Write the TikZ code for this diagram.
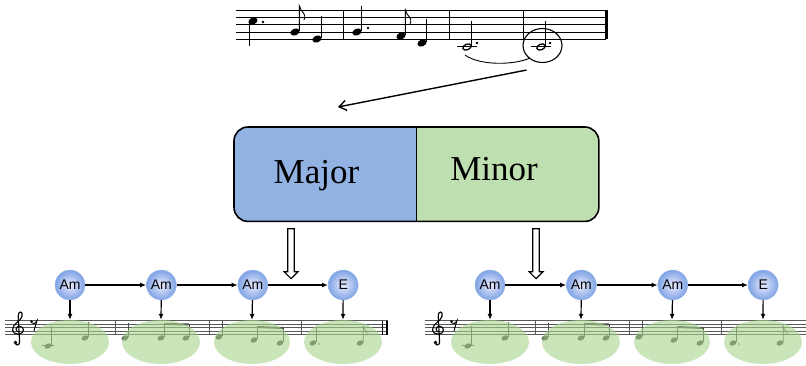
\documentclass[tikz,border=0pt]{standalone}
\usepackage{fontspec}
\setmainfont{Liberation Serif}
\setsansfont{Liberation Sans}
\usetikzlibrary{arrows.meta,positioning,shapes.geometric,shapes.arrows}
\definecolor{majorblue}{RGB}{145,178,226}
\definecolor{minorgreen}{RGB}{190,223,176}
\definecolor{blobgreen}{RGB}{168,212,140}
\definecolor{chordblue}{RGB}{126,163,228}

\begin{document}
\begin{tikzpicture}[x=1pt,y=-1pt,
  stf/.style={line width=0.7pt},
  notes/.style={line width=0.9pt},
  conn/.style={-{Latex[length=6pt,width=5pt]}, line width=1.2pt},
  chord/.style={circle, draw=chordblue!70, inner sep=0pt, minimum size=30pt,
    inner color=blue!8, outer color=chordblue, font=\sffamily\fontsize{14}{14}\selectfont},
  blob/.style={ellipse, fill=blobgreen, fill opacity=0.6, inner sep=0pt,
    minimum width=78pt, minimum height=44pt},
  hollow/.style={single arrow, draw, line width=1.2pt, shape border rotate=270,
    minimum height=50pt, minimum width=14pt, inner sep=2.5pt, single arrow head extend=3.5pt}]
  \useasboundingbox (0,0) rectangle (806,365);

  % melody on top
  \foreach \y in {10,17.3,24.6,31.9,39.2}
    \draw[stf] (236,\y) -- (606,\y);
  \foreach \x in {343,449,523}
    \draw[stf] (\x,10) -- (\x,39.2);
  \draw[line width=3pt] (606,10) -- (606,39.2);
  \foreach \x/\y in {253/21,295/32,317/39,357/32,401/36,422/43}
    \fill[rotate around={22:(\x,\y)}] (\x,\y) ellipse (4.8 and 3.4);
  \foreach \x/\y in {467/47,541/47}{
    \draw[line width=1.3pt, rotate around={22:(\x,\y)}] (\x,\y) ellipse (4.4 and 2.8);
    \draw[stf] (\x-10,46.5) -- (\x+10,46.5);}
  \draw[notes] (249,22) -- (249,46);
  \draw[notes] (299.4,31) -- (299.4,6) .. controls (301,13) and (307,13) .. (304,20);
  \draw[notes] (321.4,38) -- (321.4,16);
  \draw[notes] (361.4,31) -- (361.4,6);
  \draw[notes] (405.4,35) -- (405.4,10) .. controls (407,17) and (413,17) .. (410,24);
  \draw[notes] (426.4,42) -- (426.4,19);
  \draw[notes] (471.4,46) -- (471.4,21);
  \draw[notes] (545.4,46) -- (545.4,21);
  \foreach \x/\y in {263/22,368/28,477/43,550/43}
    \fill (\x,\y) circle (1.3);
  \draw[line width=0.9pt] (465,55) .. controls (480,66) and (515,65) .. (530,58);
  \node[draw, ellipse, line width=1.1pt, minimum width=39pt, minimum height=34pt] (sel) at (542.5,45.5) {};
  \coordinate (tip) at (338,107);
  \draw[-{Straight Barb[length=7pt,width=10pt]}, line width=1.4pt] ([xshift=-16pt,yshift=-7pt]sel.south) -- (tip);

  % key box
  \begin{scope}
    \clip[rounded corners=14pt] (234,127) rectangle (598,221);
    \node[inner sep=0pt, fill=majorblue, minimum width=182pt, minimum height=94pt, anchor=north west] (major) at (234,127) {};
    \node[inner sep=0pt, fill=minorgreen, minimum width=182pt, minimum height=94pt, right=0pt of major] (minor) {};
  \end{scope}
  \draw[line width=1.6pt, rounded corners=14pt] (major.north west) rectangle (minor.south east);
  \draw[line width=1.2pt] (major.north east) -- (major.south east);
  \node[anchor=base, font=\fontsize{35}{40}\selectfont] (majtxt) at (316.5,183) {Major};
  \node[anchor=base, font=\fontsize{35}{40}\selectfont] (mintxt) at (494,180) {Minor};
  \node[hollow] (dl) at (291,252) {};
  \node[hollow] (dr) at (536,252) {};

  % the two chord graphs
  \foreach \s/\o/\e in {l/0/388,r/420/806}{
  \begin{scope}[xshift=\o pt]
    \foreach \y in {320.5,324,327.5,331,334.5}
      \draw[stf, gray!70!black] (5,\y) -- (\e-\o,\y);
    \foreach \x in {115,209,301}
      \draw[stf, gray!70!black] (\x,320.5) -- (\x,334.5);
    % clef and rest
    \draw[line width=1.1pt] (15,343) .. controls (17,346.5) and (20.5,345) .. (19.5,340) -- (18.2,316)
      .. controls (18,310.5) and (23.5,310.5) .. (22,316.5) .. controls (21,321) and (12.5,323.5) .. (12.5,330)
      .. controls (12.5,335.5) and (23.5,335.5) .. (23.5,330) .. controls (23.5,325.5) and (16.5,325) .. (16,329)
      .. controls (16,331) and (18,332) .. (19,332);
    \fill (15.5,342.5) circle (1.8);
    \fill (31.5,321.5) circle (1.4);
    \draw[line width=0.9pt] (31,322.5) .. controls (33,324.5) and (35,324) .. (37,320.5) -- (34,331);
    \begin{scope}[gray!60!black]
      \foreach \x/\y in {48/346,85/338,125/338,161/338,186/338,219/337,254/340,280/343,313/343,360/343}
        \fill[rotate around={22:(\x,\y)}] (\x,\y) ellipse (3.6 and 2.5);
      \draw[stf] (42,345.5) -- (54,345.5);
      \draw[stf] (51.2,345) -- (51.2,326);
      \draw[stf] (88.2,337) -- (88.2,322);
      \draw[stf] (128.2,337) -- (128.2,323);
      \draw[stf] (164.2,337) -- (164.2,324) (189.2,337) -- (189.2,324);
      \draw[line width=2pt] (164.2,324) -- (189.2,324.5);
      \draw[stf] (222.2,336) -- (222.2,321);
      \draw[stf] (257.2,339) -- (257.2,327) (283.2,342) -- (283.2,328);
      \draw[line width=2pt] (257.2,327) -- (283.2,328);
      \draw[stf] (316.2,342) -- (316.2,326);
      \draw[stf] (363.2,342) -- (363.2,326) .. controls (364,331) and (368,331) .. (367,335);
      \fill (319,344) circle (0.9);
    \end{scope}
    \node[blob] (\s e1) at (70,342) {};
    \node[blob] (\s e2) at (161,342) {};
    \node[blob, minimum width=76pt] (\s e3) at (252,342) {};
    \node[blob] (\s e4) at (343,342) {};
    \node[chord] (\s1) at (70,285) {Am};
    \node[chord, right=61pt of \s1] (\s2) {Am};
    \node[chord, right=61pt of \s2] (\s3) {Am};
    \node[chord, right=60pt of \s3] (\s4) {E};
    \draw[conn] (\s1) -- (\s2);
    \draw[conn] (\s2) -- (\s3);
    \draw[conn] (\s3) -- (\s4);
    \foreach \i in {1,...,4}
      \draw[conn] (\s\i) -- (\s e\i.north);
  \end{scope}}
  \draw[line width=0.8pt] (382,320.5) -- (382,334.5);
  \draw[line width=2.5pt] (387,320.5) -- (387,334.5);
\end{tikzpicture}
\end{document}
